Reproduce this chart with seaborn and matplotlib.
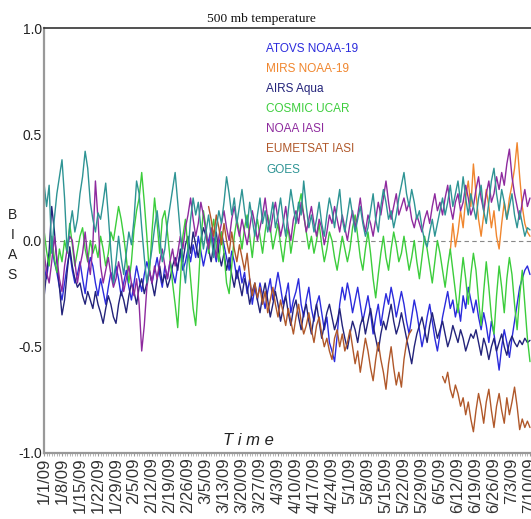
import numpy as np
import pandas as pd
import matplotlib
matplotlib.use("Agg")
import matplotlib.pyplot as plt
import seaborn as sns

nan = np.nan

# Weekly tick labels (one point per day, 190 days)
tick_labels = ["1/1/09", "1/8/09", "1/15/09", "1/22/09", "1/29/09", "2/5/09", "2/12/09",
               "2/19/09", "2/26/09", "3/5/09", "3/13/09", "3/20/09", "3/27/09", "4/3/09",
               "4/10/09", "4/17/09", "4/24/09", "5/1/09", "5/8/09", "5/15/09", "5/22/09",
               "5/29/09", "6/5/09", "6/12/09", "6/19/09", "6/26/09", "7/3/09", "7/10/09"]

atovs_noaa19 = [
    -0.12, -0.18, -0.08, -0.02, -0.10, -0.15, -0.22,
    -0.28, -0.20, -0.12, -0.05, -0.14, -0.20, -0.16,
    -0.10, -0.18, -0.25, -0.15, -0.08, -0.12, -0.20,
    -0.26, -0.18, -0.24, -0.30, -0.22, -0.15, -0.20,
    -0.12, -0.18, -0.26, -0.20, -0.14, -0.22, -0.28,
    -0.20, -0.12, -0.18, -0.24, -0.16, -0.10, -0.15,
    -0.20, -0.14, -0.08, -0.16, -0.22, -0.12, -0.18,
    -0.10, -0.15, -0.20, -0.12, -0.06, -0.14, -0.10,
    -0.04, -0.10, -0.02, -0.08, 0.02, -0.05, -0.12,
    -0.06, 0.00, 0.05, -0.04, -0.10, -0.02, 0.04,
    -0.02, -0.08, -0.14, -0.05, -0.10, -0.18, -0.12,
    -0.20, -0.15, -0.25, -0.18, -0.30, -0.22, -0.28,
    -0.20, -0.26, -0.32, -0.24, -0.18, -0.28, -0.22,
    -0.15, -0.22, -0.30, -0.26, -0.20, -0.34, -0.28,
    -0.24, -0.18, -0.30, -0.36, -0.28, -0.22, -0.32,
    -0.38, -0.30, -0.26, -0.34, -0.42, -0.36, -0.48,
    -0.52, -0.57, -0.45, -0.30, -0.22, -0.28, -0.20,
    -0.26, -0.34, -0.28, -0.22, -0.30, -0.38, -0.32,
    -0.26, -0.34, -0.44, -0.36, -0.30, -0.40, -0.32,
    -0.25, -0.30, -0.22, -0.28, -0.36, -0.30, -0.24,
    -0.30, -0.38, -0.44, -0.36, -0.28, -0.34, -0.42,
    -0.50, -0.44, -0.36, -0.30, -0.38, -0.46, -0.52,
    -0.44, -0.36, -0.30, -0.24, -0.32, -0.28, -0.36,
    -0.30, -0.38, -0.26, -0.32, -0.22, -0.28, -0.34,
    -0.28, -0.36, -0.42, -0.34, -0.40, -0.48, -0.38,
    -0.44, -0.52, -0.61, -0.50, -0.42, -0.48, -0.55,
    -0.46, -0.38, -0.30, -0.22, -0.18, -0.14, -0.12,
    -0.16]

mirs_noaa19 = [nan] * 154 + [
    nan, nan, nan, nan, -0.05, 0.08, -0.03,
    0.04, 0.14, 0.06, 0.20, 0.28, 0.16, 0.36,
    0.22, 0.10, 0.02, 0.12, 0.24, 0.16, 0.06,
    0.14, 0.02, -0.04, 0.08, 0.18, 0.10, 0.20,
    0.26, 0.34, 0.46, 0.30, 0.16, 0.08, 0.04,
    0.02]

airs_aqua = [
    -0.27, -0.15, -0.05, 0.16, 0.05, -0.10, -0.22,
    -0.35, -0.28, -0.15, -0.03, -0.12, -0.18, -0.22,
    -0.20, -0.26, -0.30, -0.24, -0.28, -0.32, -0.24,
    -0.30, -0.34, -0.39, -0.32, -0.26, -0.30, -0.36,
    -0.39, -0.30, -0.24, -0.28, -0.34, -0.26, -0.20,
    -0.24, -0.30, -0.22, -0.18, -0.25, -0.20, -0.14,
    -0.20, -0.26, -0.18, -0.12, -0.20, -0.16, -0.22,
    -0.18, -0.12, -0.08, -0.14, -0.04, -0.10, -0.02,
    0.02, -0.06, 0.04, -0.02, -0.08, 0.00, 0.06,
    0.02, -0.04, -0.10, -0.02, 0.04, -0.06, -0.12,
    -0.06, -0.14, -0.08, -0.16, -0.22, -0.14, -0.20,
    -0.26, -0.18, -0.22, -0.30, -0.24, -0.20, -0.28,
    -0.34, -0.26, -0.20, -0.28, -0.36, -0.30, -0.24,
    -0.30, -0.38, -0.32, -0.26, -0.34, -0.40, -0.32,
    -0.28, -0.36, -0.42, -0.34, -0.30, -0.38, -0.44,
    -0.36, -0.30, -0.38, -0.46, -0.40, -0.34, -0.30,
    -0.36, -0.42, -0.38, -0.32, -0.40, -0.46, -0.51,
    -0.44, -0.38, -0.42, -0.48, -0.40, -0.36, -0.44,
    -0.38, -0.32, -0.40, -0.46, -0.52, -0.44, -0.38,
    -0.42, -0.36, -0.30, -0.38, -0.44, -0.40, -0.34,
    -0.40, -0.46, -0.52, -0.58, -0.50, -0.44, -0.40,
    -0.36, -0.42, -0.48, -0.40, -0.34, -0.40, -0.46,
    -0.42, -0.38, -0.44, -0.50, -0.46, -0.40, -0.44,
    -0.48, -0.42, -0.46, -0.52, -0.48, -0.44, -0.46,
    -0.42, -0.48, -0.54, -0.46, -0.50, -0.56, -0.50,
    -0.46, -0.52, -0.48, -0.44, -0.50, -0.54, -0.48,
    -0.45, -0.48, -0.50, -0.47, -0.49, -0.46, -0.48,
    -0.47]

cosmic_ucar = [
    0.05, -0.05, -0.12, 0.02, -0.08, -0.15, -0.04,
    -0.10, 0.00, -0.06, 0.08, -0.02, -0.12, -0.05,
    0.02, 0.06, -0.04, -0.10, 0.00, -0.06, -0.02,
    -0.08, 0.02, -0.04, -0.12, -0.06, 0.04, 0.00,
    0.08, 0.16, 0.10, 0.02, -0.08, -0.20, -0.10,
    0.05, 0.14, 0.20, 0.32, 0.18, 0.02, -0.16,
    0.04, 0.20, 0.08, -0.06, 0.10, 0.14, 0.04,
    -0.08, -0.20, -0.30, -0.41, -0.20, 0.02, 0.10,
    -0.04, -0.18, -0.32, -0.40, -0.22, 0.00, 0.14,
    0.06, -0.06, 0.02, 0.10, -0.02, -0.10, 0.04,
    -0.06, -0.20, -0.25, -0.12, 0.02, 0.10, 0.04,
    -0.04, 0.06, 0.12, 0.02, -0.08, 0.04, 0.10,
    0.02, -0.06, 0.04, 0.12, 0.06, -0.04, 0.02,
    0.08, -0.02, -0.10, 0.00, 0.06, -0.06, 0.02,
    0.10, 0.16, 0.22, 0.12, 0.04, -0.04, 0.02,
    -0.06, 0.00, 0.08, -0.02, -0.10, -0.04, 0.04,
    0.00, -0.08, -0.14, -0.06, 0.02, -0.04, -0.10,
    -0.04, 0.06, 0.12, 0.02, -0.08, -0.14, -0.04,
    0.04, -0.06, -0.18, -0.27, -0.16, -0.06, 0.02,
    -0.08, -0.14, -0.04, 0.04, -0.02, -0.10, -0.06,
    0.02, -0.06, -0.14, -0.08, 0.00, -0.10, -0.18,
    -0.08, 0.02, -0.04, -0.12, -0.20, -0.10, 0.00,
    -0.06, -0.14, -0.22, -0.12, -0.04, -0.14, -0.24,
    -0.34, -0.20, -0.08, -0.18, -0.30, -0.16, -0.06,
    -0.14, -0.28, -0.40, -0.24, -0.10, -0.22, -0.36,
    -0.44, -0.26, -0.12, -0.22, -0.34, -0.18, -0.08,
    -0.16, -0.30, -0.42, -0.26, -0.14, -0.30, -0.46,
    -0.57]

noaa_iasi = [
    -0.05, -0.15, -0.20, -0.10, 0.02, -0.08, -0.18,
    -0.24, -0.12, -0.04, 0.02, 0.00, -0.10, -0.20,
    -0.12, -0.06, 0.04, -0.08, -0.16, -0.02, 0.28,
    0.10, -0.12, -0.20, -0.14, -0.08, -0.16, -0.22,
    -0.18, -0.10, -0.16, -0.24, -0.18, -0.12, -0.20,
    -0.26, -0.18, -0.30, -0.52, -0.40, -0.22, -0.14,
    -0.20, -0.12, -0.18, -0.10, -0.04, -0.12, -0.18,
    -0.10, -0.04, -0.12, -0.06, 0.02, -0.04, 0.06,
    0.12, 0.20, 0.10, 0.02, 0.08, 0.18, 0.12,
    0.04, -0.04, 0.06, 0.00, -0.08, 0.02, 0.08,
    0.14, 0.06, 0.00, 0.10, 0.16, 0.08, 0.02,
    0.10, 0.04, -0.02, 0.06, 0.14, 0.08, 0.00,
    0.06, 0.12, 0.20, 0.10, 0.04, 0.12, 0.18,
    0.10, 0.02, 0.08, 0.16, 0.06, 0.00, 0.10,
    0.14, 0.08, 0.18, 0.12, 0.04, 0.10, 0.16,
    0.08, 0.02, 0.10, 0.06, -0.02, 0.04, 0.12,
    0.08, 0.16, 0.10, 0.04, 0.12, 0.06, 0.00,
    0.08, 0.14, 0.06, 0.12, 0.20, 0.10, 0.04,
    0.12, 0.08, 0.02, 0.10, 0.18, 0.12, 0.20,
    0.28, 0.18, 0.10, 0.16, 0.22, 0.12, 0.16,
    0.20, 0.14, 0.18, 0.10, 0.06, 0.12, 0.08,
    0.04, 0.10, 0.14, 0.08, 0.16, 0.22, 0.14,
    0.18, 0.12, 0.20, 0.26, 0.16, 0.10, 0.18,
    0.22, 0.14, 0.18, 0.26, 0.20, 0.12, 0.16,
    0.24, 0.30, 0.20, 0.14, 0.22, 0.28, 0.18,
    0.22, 0.30, 0.24, 0.32, 0.26, 0.36, 0.43,
    0.30, 0.22, 0.16, 0.10, 0.18, 0.24, 0.16,
    0.20]

eumetsat_iasi = [nan] * 63 + [
    nan, 0.16, 0.10, 0.02, 0.12, 0.06, -0.02,
    0.08, 0.00, -0.06, 0.04, -0.04, -0.10, -0.02,
    -0.08, -0.14, -0.06, -0.18, -0.26, -0.20, -0.27,
    -0.22, -0.30, -0.24, -0.34, -0.28, -0.22, -0.30,
    -0.36, -0.28, -0.34, -0.40, -0.32, -0.38, -0.44,
    -0.36, -0.30, -0.38, -0.44, -0.40, -0.34, -0.42,
    -0.48, -0.40, -0.36, -0.44, -0.50, -0.46, -0.52,
    -0.56, -0.46, -0.42, -0.50, -0.44, -0.52, -0.48,
    -0.42, -0.50, -0.58, -0.52, -0.62, -0.54, -0.46,
    -0.52, -0.60, -0.66, -0.56, -0.48, -0.56, -0.62,
    -0.70, -0.58, -0.50, -0.60, -0.68, -0.62, -0.69,
    -0.56, -0.48, -0.44, -0.42, nan, nan, nan,
    nan, nan, nan, nan, nan, nan, nan,
    nan, -0.64, -0.67, -0.62, -0.70, -0.74, -0.68,
    -0.72, -0.78, -0.74, -0.82, -0.76, -0.84, -0.90,
    -0.80, -0.72, -0.78, -0.86, -0.76, -0.70, -0.80,
    -0.88, -0.78, -0.72, -0.80, -0.86, -0.74, -0.82,
    -0.76, -0.69, -0.78, -0.89, -0.84, -0.88, -0.85,
    -0.88]

goes = [
    0.27, 0.16, 0.26, -0.06, 0.10, 0.22, 0.30,
    0.38, 0.20, -0.05, 0.06, 0.14, 0.04, 0.10,
    0.22, 0.30, 0.42, 0.34, 0.18, 0.10, 0.04,
    0.13, 0.10, 0.18, 0.27, 0.12, -0.05, -0.20,
    -0.10, 0.02, -0.08, -0.16, -0.06, 0.04, -0.02,
    0.10, 0.28, 0.22, 0.06, -0.08, -0.20, -0.12,
    -0.04, 0.06, 0.14, 0.02, -0.10, -0.04, 0.08,
    0.16, 0.24, 0.32, 0.18, 0.04, -0.10, -0.20,
    -0.06, 0.10, 0.20, 0.12, 0.18, 0.06, -0.04,
    0.04, 0.12, 0.02, -0.08, 0.06, 0.14, 0.08,
    0.18, 0.30, 0.22, 0.12, 0.20, 0.08, 0.16,
    0.24, 0.14, 0.06, 0.18, 0.10, 0.02, 0.12,
    0.20, 0.08, 0.14, 0.04, 0.10, 0.18, 0.06,
    0.12, 0.20, 0.10, 0.02, 0.14, 0.24, 0.16,
    0.08, 0.18, 0.12, 0.28, 0.16, 0.06, 0.12,
    0.04, 0.10, 0.18, 0.08, 0.02, 0.12, 0.20,
    0.14, 0.06, 0.16, 0.24, 0.10, 0.04, 0.12,
    0.20, 0.12, 0.04, 0.10, 0.16, 0.08, 0.02,
    0.06, 0.14, 0.22, 0.10, 0.04, 0.16, 0.24,
    0.18, 0.10, 0.14, 0.06, 0.12, 0.20, 0.26,
    0.32, 0.22, 0.16, 0.24, 0.18, 0.10, 0.14,
    0.06, 0.00, -0.03, 0.04, 0.10, 0.02, 0.08,
    0.14, 0.20, 0.12, 0.18, 0.26, 0.16, 0.22,
    0.28, 0.18, 0.30, 0.20, 0.12, 0.22, 0.16,
    0.10, 0.20, 0.26, 0.14, 0.08, 0.18, 0.28,
    0.34, 0.22, 0.14, 0.24, 0.18, 0.10, 0.16,
    0.22, 0.12, 0.06, 0.14, 0.08, 0.02, 0.06,
    0.05]

series = {
    "ATOVS NOAA-19": atovs_noaa19,
    "MIRS NOAA-19": mirs_noaa19,
    "AIRS Aqua": airs_aqua,
    "COSMIC UCAR": cosmic_ucar,
    "NOAA IASI": noaa_iasi,
    "EUMETSAT IASI": eumetsat_iasi,
    "GOES": goes,
}
colors = {
    "ATOVS NOAA-19": "#2b2bdc",
    "MIRS NOAA-19": "#f0862e",
    "AIRS Aqua": "#23237a",
    "COSMIC UCAR": "#3ccd3c",
    "NOAA IASI": "#8e2a9e",
    "EUMETSAT IASI": "#b0582a",
    "GOES": "#2e9494",
}

# Long format, split into segments where data is missing so gaps stay gaps
frames = []
for name, vals in series.items():
    assert len(vals) == 190, (name, len(vals))
    s = pd.Series(vals, dtype=float)
    seg = s.isna().cumsum().astype(str)
    d = pd.DataFrame({"day": np.arange(len(s)), "bias": s, "sensor": name, "seg": name + seg})
    frames.append(d.dropna())
df = pd.concat(frames, ignore_index=True)

sns.set_theme(style="white")
plt.rcParams["font.family"] = ["Liberation Sans", "DejaVu Sans"]

fig = plt.figure(figsize=(5.31, 5.19), dpi=100)
ax = fig.add_axes([44 / 531, 1 - 453 / 519, 487 / 531, 425 / 519])

ax.axhline(0, color="#888888", lw=0.8, ls=(0, (4, 3)), zorder=1)

sns.lineplot(data=df, x="day", y="bias", hue="sensor", units="seg", estimator=None,
             hue_order=list(series.keys()), palette=colors, lw=1.0, ax=ax, sort=True)

ax.set_xlim(0, 189.4)
ax.set_ylim(-1.0, 1.0)
ax.set_yticks([-1.0, -0.5, 0.0, 0.5, 1.0])
ax.set_yticklabels(["-1.0", "-0.5", "0.0", "0.5", "1.0"], fontsize=10, color="#222222")
ax.set_xticks(np.arange(0, 190, 7))
ax.set_xticklabels(tick_labels, rotation=90, fontsize=12, color="#333333")
ax.set_xticks(np.arange(0, 190), minor=True)
ax.tick_params(axis="x", which="major", length=2.5, width=0.8, color="#999999", pad=0.5, bottom=True)
ax.tick_params(axis="x", which="minor", length=2.5, width=0.6, color="#aaaaaa", bottom=True)
ax.tick_params(axis="y", length=1, width=0.8, color="#999999", pad=0.5, left=True)
ax.set_xlabel("")
ax.set_ylabel("")

for side in ["left", "bottom"]:
    ax.spines[side].set_color("#999999")
    ax.spines[side].set_linewidth(1.6)
ax.spines["top"].set_color("#333333")
ax.spines["top"].set_linewidth(1.2)
ax.spines["right"].set_visible(False)

# Text-only legend in series colours
sns.move_legend(ax, "upper left", bbox_to_anchor=(0.447, 0.975), frameon=False,
                handlelength=0, handletextpad=0, labelspacing=0.68,
                fontsize=8.5, title=None, borderaxespad=0)
leg = ax.get_legend()
for text, line in zip(leg.get_texts(), leg.get_lines()):
    text.set_color(line.get_color())
    line.set_visible(False)

fig.text(0.492, 1 - 22 / 519, "500 mb temperature", family="Liberation Serif", fontsize=9.7,
         ha="center", va="baseline", color="#111111")
fig.text(0.023, 0.528, "B\nI\nA\nS", fontsize=10, ha="center", va="center",
         linespacing=1.55, color="#222222")
ax.text(0.419, 0.012, "T i m e", transform=ax.transAxes, fontsize=12, style="italic",
        ha="center", va="bottom", color="#222222")

fig.savefig("out.png", dpi=100)
